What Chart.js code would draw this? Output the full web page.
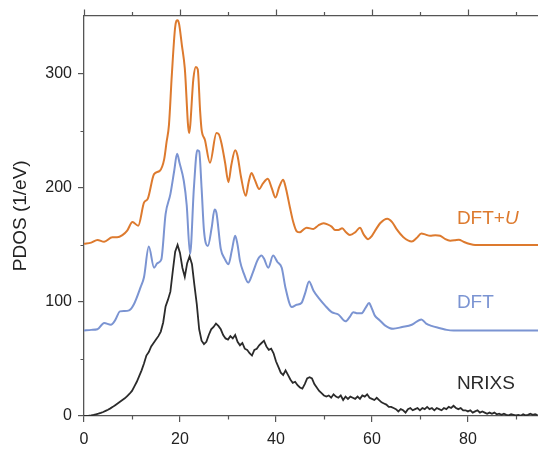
<!DOCTYPE html>
<html>
<head>
<meta charset="utf-8">
<script src="https://cdn.jsdelivr.net/npm/chart.js@4/dist/chart.umd.min.js"></script>
<style>
  body { margin: 0; background: #fff; }
  canvas { display: block; }
</style>
</head>
<body>
<canvas id="pdosChart" width="538" height="450"></canvas>
<script>
// energy axis (meV) and tick marks
const xMax = 94.6;
const yMax = 351;
const xMajorTicks = [0, 20, 40, 60, 80];
const xMinorTicks = [10, 30, 50, 70, 90];
const yMajorTicks = [0, 100, 200, 300];
const yMinorTicks = [50, 150, 250];

// DFT+U curve (offset by 150 in the plot)
const dftuX = [0, 1.5, 2.8, 4.2, 5.9, 6.9, 8, 9, 10.1, 11.3, 12.5, 13.3, 14.6, 15.8, 16.7, 17.2, 17.7, 18.3, 19, 19.5, 19.8, 20.4, 21, 21.9, 22.8, 23.3, 23.7, 24.2, 24.5, 25.2, 26.25, 27.6, 28.1, 28.7, 29.4, 30.1, 30.7, 31.5, 32, 32.7, 33.7, 34.3, 34.9, 35.6, 36.5, 37.3, 38.3, 39.1, 39.9, 40.7, 41.5, 42.1, 42.9, 43.6, 44.3, 45, 45.6, 46.4, 47.8, 48.8, 49.9, 50.7, 51.6, 52.3, 53, 53.8, 54.6, 55.4, 56.5, 57.5, 58.3, 59.2, 60, 60.9, 61.7, 63.2, 64.2, 65.1, 66.5, 68.3, 69.3, 70.3, 71.2, 72.1, 73.2, 74.2, 75.3, 76.3, 77.2, 78.1, 79.2, 80.4, 81.5, 94.6];
const dftuY = [151, 152, 154.3, 152.7, 156.6, 156.6, 158.5, 162.5, 170, 166.8, 187, 190.6, 212, 215, 225, 240, 255, 299, 341, 347, 344, 325, 305, 248, 296, 306, 304, 267, 251, 242, 222, 248, 247, 238, 222, 205, 220, 233, 228, 210, 193, 205, 213, 207, 199, 204, 208, 200, 191.5, 201, 207, 199, 183, 170, 162, 161, 163, 165, 164, 167, 169, 168, 166, 163, 163, 164.6, 161, 158.7, 161, 165, 159, 155, 158, 164, 169, 173, 170, 164, 157, 153, 156, 160, 159, 158, 158.5, 158, 155, 153.7, 154, 154.6, 152.5, 150.8, 150, 150];

// DFT curve (offset by 75 in the plot)
const dftX = [0, 1.5, 2.8, 4.2, 5.6, 6.5, 7.5, 8.4, 9.4, 10.4, 11.8, 12.5, 13.5, 14.6, 15.3, 16.1, 17, 18, 18.8, 19.4, 19.9, 20.8, 21.4, 22.1, 22.9, 23.6, 24, 24.5, 25, 25.8, 26.6, 27.2, 27.6, 28.5, 29.3, 30.1, 30.8, 31.5, 32, 32.5, 33.3, 34.2, 35.2, 36.2, 37, 37.5, 38.4, 39.4, 40.3, 41.2, 42, 43.3, 44.3, 45.3, 46.1, 46.9, 47.8, 48.8, 50.2, 51.6, 53, 54.5, 55.4, 56.1, 57, 57.8, 58.7, 59.4, 60, 60.6, 61.6, 62.7, 64.4, 66.3, 68.3, 70.3, 71.3, 72.4, 74.2, 75.6, 77, 94.6];
const dftY = [75, 75.5, 76, 81.5, 80, 84, 91.7, 92, 92.6, 98, 113, 121.7, 148.5, 130, 134, 137, 177, 194.5, 215, 230, 222, 206, 185, 142, 200, 233, 232, 200, 162.5, 149, 165, 181, 178, 146.5, 138, 133, 145, 158, 150, 136, 125, 117, 126, 137, 140.6, 138, 130, 140.6, 135, 130, 112, 95.5, 97.5, 99, 108, 118, 110, 104, 97, 91, 89, 83, 87, 91, 90, 90, 95, 99, 94, 88, 84, 79.5, 76.5, 78, 80, 84.7, 81, 79, 77, 75.5, 75, 75];

// NRIXS measurement, 0.5 meV grid starting at 0
const nrixsStart = 0;
const nrixsStep = 0.5;
const nrixsY = [
  0, 0.1, 0.3, 0.6, 1, 1.5, 2, 2.7, 3.5, 4.5, 5.5, 6.7, 8, 9.5, 11, 12.5, 14, 15.5, 17.5, 19.5,
  22, 26, 30, 35, 40, 46, 53, 56, 61, 64, 67, 70, 74, 82, 96, 102, 109, 127, 144, 150,
  143, 130, 122, 134, 140, 133, 115, 98, 76, 66, 63, 65, 71, 76, 78, 81, 79, 76, 71, 68,
  67, 70, 68, 71, 65, 62, 64, 59, 58, 55, 53, 58, 59, 62, 64, 66, 61, 58, 59, 55,
  48, 43, 38, 36, 40, 36, 32, 29, 30, 27, 25, 24, 28, 33, 34, 33, 28, 25, 22, 20,
  18, 17, 18, 16, 19, 17, 16, 18, 14, 17, 15, 17, 16, 15, 17, 15, 18, 17, 19, 16,
  15, 14, 16, 14, 12, 11, 10, 8, 8, 7, 6, 4, 6, 5, 3, 6, 7, 5, 6, 7,
  5, 7, 6, 8, 6, 7, 5, 7, 6, 5, 7, 6, 8, 7, 9, 7, 6, 7, 5, 5,
  4, 5, 3, 4, 5, 3, 4, 3, 2, 3, 2, 3, 1.5, 2, 1, 2, 1, 0.5, 1.5, 1,
  0.5, 1, 0.3, 1.5, 0.5, 1, 2, 1, 1.5, 0.8
];

// curve labels: text, anchor in data units
const seriesLabels = [
  { text: "DFT+", italic: "U", x: 77.7, y: 173, color: "#DD7A2E" },
  { text: "DFT", italic: "", x: 77.7, y: 99, color: "#7B94D2" },
  { text: "NRIXS", italic: "", x: 77.7, y: 28, color: "#2b2b2b" }
];

const toPoints = (xs, ys) => xs.map((x, i) => ({ x: x, y: ys[i] }));
const nrixsPoints = nrixsY.map((y, i) => ({ x: nrixsStart + i * nrixsStep, y: y }));

const axisColor = "#555";
const fontFamily = "'Liberation Sans', Arial, sans-serif";

// minor ticks, ticks on the top axis, and the curve labels
const extras = {
  id: "extras",
  afterDraw(chart) {
    const ctx = chart.ctx;
    const xs = chart.scales.x, xt = chart.scales.x2, ys = chart.scales.y;
    ctx.save();
    ctx.strokeStyle = axisColor;
    ctx.lineWidth = 1.2;
    ctx.beginPath();
    xMinorTicks.forEach(v => {
      const px = Math.round(xs.getPixelForValue(v)) + 0.5;
      ctx.moveTo(px, xs.top); ctx.lineTo(px, xs.top + 3.5);
      ctx.moveTo(px, xt.bottom); ctx.lineTo(px, xt.bottom - 3.5);
    });
    xMajorTicks.forEach(v => {
      const px = Math.round(xt.getPixelForValue(v)) + 0.5;
      ctx.moveTo(px, xt.bottom); ctx.lineTo(px, xt.bottom - 6);
    });
    yMinorTicks.forEach(v => {
      const py = Math.round(ys.getPixelForValue(v)) + 0.5;
      ctx.moveTo(ys.right, py); ctx.lineTo(ys.right - 3.5, py);
    });
    ctx.stroke();

    ctx.textBaseline = "middle";
    seriesLabels.forEach(l => {
      let px = xs.getPixelForValue(l.x);
      const py = ys.getPixelForValue(l.y);
      ctx.fillStyle = l.color;
      ctx.font = "19px " + fontFamily;
      ctx.fillText(l.text, px, py);
      if (l.italic) {
        px += ctx.measureText(l.text).width;
        ctx.font = "italic 19px " + fontFamily;
        ctx.fillText(l.italic, px, py);
      }
    });
    ctx.restore();
  }
};

const keepTicks = list => scale => {
  scale.ticks = list.map(v => ({ value: v }));
};

new Chart(document.getElementById("pdosChart"), {
  type: "line",
  data: {
    datasets: [
      {
        label: "NRIXS",
        data: nrixsPoints,
        borderColor: "#2b2b2b",
        borderWidth: 1.8,
        pointRadius: 0,
        tension: 0
      },
      {
        label: "DFT",
        data: toPoints(dftX, dftY),
        borderColor: "#7B94D2",
        borderWidth: 2,
        pointRadius: 0,
        cubicInterpolationMode: "monotone"
      },
      {
        label: "DFT+U",
        data: toPoints(dftuX, dftuY),
        borderColor: "#DD7A2E",
        borderWidth: 2,
        pointRadius: 0,
        cubicInterpolationMode: "monotone"
      }
    ]
  },
  options: {
    responsive: false,
    animation: false,
    layout: { padding: 0 },
    plugins: { legend: { display: false }, tooltip: { enabled: false } },
    scales: {
      x: {
        type: "linear",
        position: "bottom",
        min: 0,
        max: xMax,
        afterBuildTicks: keepTicks(xMajorTicks),
        afterFit: s => { s.height = 34; },
        grid: { display: true, drawOnChartArea: false, tickLength: 6, color: axisColor, lineWidth: 1.2 },
        border: { display: true, color: axisColor, width: 1.3 },
        ticks: { color: "#222", font: { size: 16, family: fontFamily }, padding: 8, maxRotation: 0 }
      },
      x2: {
        type: "linear",
        position: "top",
        min: 0,
        max: xMax,
        afterBuildTicks: keepTicks(xMajorTicks),
        afterFit: s => { s.height = 14; },
        grid: { display: false },
        border: { display: true, color: axisColor, width: 1.3 },
        ticks: { display: false }
      },
      y: {
        min: 0,
        max: yMax,
        afterBuildTicks: keepTicks(yMajorTicks),
        afterFit: s => { s.width = 84; },
        grid: { display: true, drawOnChartArea: false, tickLength: 6, color: axisColor, lineWidth: 1.2 },
        border: { display: true, color: axisColor, width: 1.3 },
        ticks: { color: "#222", font: { size: 16, family: fontFamily }, padding: 6 },
        title: {
          display: true,
          text: "PDOS (1/eV)",
          color: "#222",
          font: { size: 19, family: fontFamily },
          padding: { top: 9 }
        }
      }
    }
  },
  plugins: [extras]
});
</script>
</body>
</html>
